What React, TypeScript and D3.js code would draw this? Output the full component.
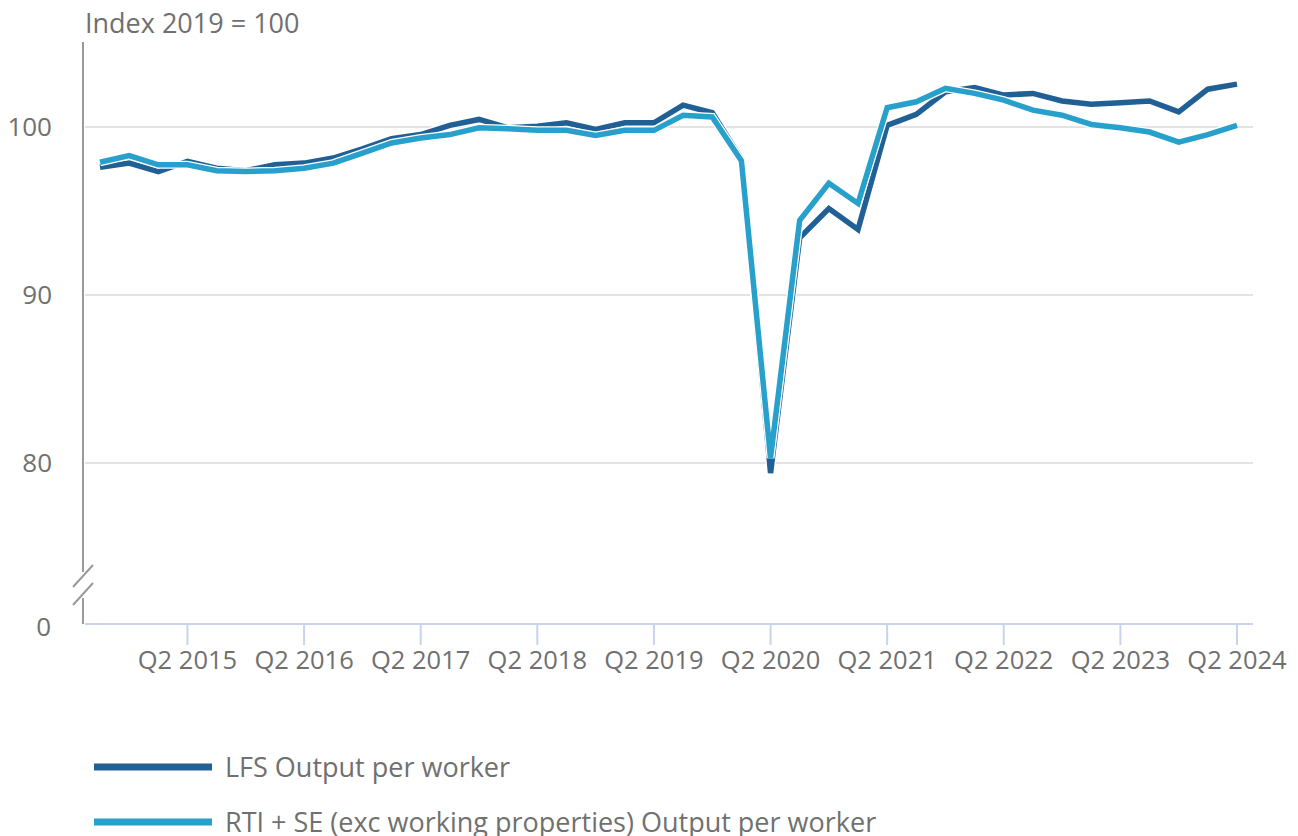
import React from "react";
import * as d3 from "d3";

const width = 1298;
const height = 836;

// Q3 2014 .. Q2 2024
const quarters = [
  "Q3 2014", "Q4 2014",
  "Q1 2015", "Q2 2015", "Q3 2015", "Q4 2015",
  "Q1 2016", "Q2 2016", "Q3 2016", "Q4 2016",
  "Q1 2017", "Q2 2017", "Q3 2017", "Q4 2017",
  "Q1 2018", "Q2 2018", "Q3 2018", "Q4 2018",
  "Q1 2019", "Q2 2019", "Q3 2019", "Q4 2019",
  "Q1 2020", "Q2 2020", "Q3 2020", "Q4 2020",
  "Q1 2021", "Q2 2021", "Q3 2021", "Q4 2021",
  "Q1 2022", "Q2 2022", "Q3 2022", "Q4 2022",
  "Q1 2023", "Q2 2023", "Q3 2023", "Q4 2023",
  "Q1 2024", "Q2 2024",
];

const lfs = [
  97.6, 97.85, 97.35, 97.95, 97.55, 97.4,
  97.75, 97.85, 98.15, 98.7, 99.3, 99.55,
  100.1, 100.45, 99.95, 100.05, 100.25, 99.85,
  100.25, 100.25, 101.3, 100.85, 98.1, 79.4,
  93.4, 95.15, 93.9, 100.1, 100.75, 102.1,
  102.35, 101.9, 102.0, 101.55, 101.35, 101.45,
  101.55, 100.9, 102.25, 102.55,
];

const rti = [
  97.9, 98.3, 97.75, 97.75, 97.4, 97.35,
  97.4, 97.55, 97.85, 98.45, 99.05, 99.35,
  99.55, 99.95, 99.9, 99.8, 99.8, 99.5,
  99.8, 99.8, 100.7, 100.6, 98.0, 80.3,
  94.45, 96.65, 95.45, 101.15, 101.5, 102.3,
  102.0, 101.6, 101.0, 100.7, 100.15, 99.95,
  99.7, 99.1, 99.55, 100.1,
];

const yTicks = [80, 90, 100];
const xTickLabels = [
  "Q2 2015", "Q2 2016", "Q2 2017", "Q2 2018", "Q2 2019",
  "Q2 2020", "Q2 2021", "Q2 2022", "Q2 2023", "Q2 2024",
];

const seriesNames = ["LFS Output per worker", "RTI + SE (exc working properties) Output per worker"];
const colors = ["#206095", "#27a0cc"];

const textColor = "#707070";
const font = "'Open Sans', 'Noto Sans', sans-serif";

export default function App() {
  const x = d3.scalePoint<string>().domain(quarters).range([100, 1237]);
  const y = d3.scaleLinear().domain([80, 100]).range([463, 127]);
  const plotLeft = 85;
  const plotRight = 1253;
  const axisY = 624;

  const line = d3.line<number>()
    .x((_, i) => x(quarters[i]) as number)
    .y((d) => y(d));

  const series = [lfs, rti];

  return (
    <svg width={width} height={height} style={{ position: "absolute", left: 0, top: 0, fontFamily: font }}>
      <rect width={width} height={height} fill="#fff" />

      <text x={85} y={33} fontSize={27} fill={textColor}>Index 2019 = 100</text>

      {/* gridlines */}
      {yTicks.map((t) => (
        <g key={t}>
          <line x1={plotLeft} x2={plotRight} y1={y(t)} y2={y(t)} stroke="#e3e3e3" strokeWidth={2} />
          <text x={52} y={y(t)} dy="0.36em" textAnchor="end" fontSize={26} fill={textColor}>{t}</text>
        </g>
      ))}
      <text x={51} y={627} dy="0.36em" textAnchor="end" fontSize={26} fill={textColor}>0</text>

      {/* y axis with break */}
      <line x1={83} x2={83} y1={42} y2={572} stroke="#9a9a9a" strokeWidth={2} />
      <line x1={83} x2={83} y1={598} y2={624} stroke="#9a9a9a" strokeWidth={2} />
      <line x1={73} y1={587} x2={93} y2={565} stroke="#9a9a9a" strokeWidth={2} />
      <line x1={73} y1={605} x2={93} y2={583} stroke="#9a9a9a" strokeWidth={2} />

      {/* x axis */}
      <line x1={plotLeft} x2={plotRight} y1={axisY} y2={axisY} stroke="#c8d4e8" strokeWidth={2} />
      {xTickLabels.map((q) => (
        <g key={q} transform={`translate(${x(q)},0)`}>
          <line y1={axisY} y2={645} stroke="#c8d4e8" strokeWidth={2} />
          <text y={669} textAnchor="middle" fontSize={25.5} fill={textColor}>{q}</text>
        </g>
      ))}

      {/* lines */}
      {series.map((s, i) => (
        <g key={i}>
          <path d={line(s) || ""} fill="none" stroke="#fff" strokeWidth={8} strokeLinejoin="miter" />
          <path d={line(s) || ""} fill="none" stroke={colors[i]} strokeWidth={5.5} strokeLinejoin="miter" />
        </g>
      ))}

      {/* legend */}
      {seriesNames.map((n, i) => (
        <g key={n} transform={`translate(0,${767 + i * 55})`}>
          <line x1={94} x2={212} stroke={colors[i]} strokeWidth={7} />
          <text x={225} dy="0.36em" fontSize={27} fill={textColor}>{n}</text>
        </g>
      ))}
    </svg>
  );
}
